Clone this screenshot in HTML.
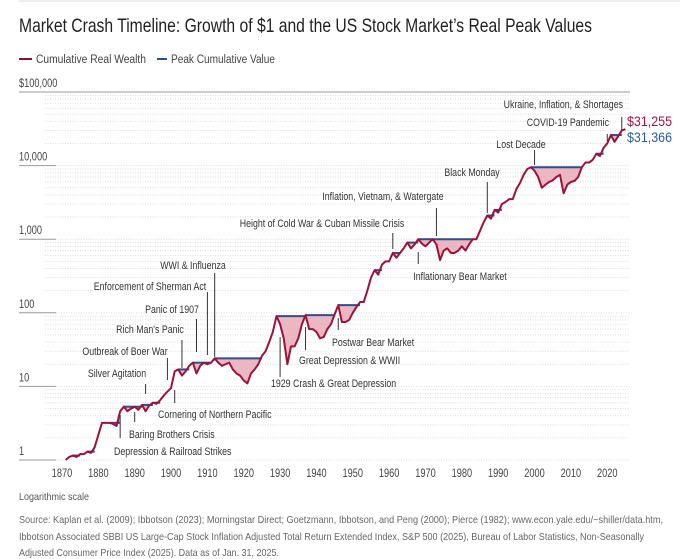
<!DOCTYPE html>
<html><head><meta charset="utf-8">
<style>
html,body{margin:0;padding:0;background:#fff;}
body{width:680px;height:559px;overflow:hidden;position:relative;font-family:"Liberation Sans Narrow","Liberation Sans",sans-serif;}
</style></head>
<body>
<svg id="chart" width="680" height="559" viewBox="0 0 680 559" xmlns="http://www.w3.org/2000/svg" style="position:absolute;left:0;top:0;font-family:'Liberation Sans Narrow','Liberation Sans',sans-serif;">
<line x1="19" y1="1" x2="680" y2="1" stroke="#ddd" stroke-width="1"/>
<text x="19" y="32" font-size="19.5" fill="#222" textLength="573" lengthAdjust="spacingAndGlyphs">Market Crash Timeline: Growth of $1 and the US Stock Market’s Real Peak Values</text>
<g>
<line x1="19" y1="59" x2="32" y2="59" stroke="#8b0f33" stroke-width="2"/>
<text x="36" y="63" font-size="11.5" fill="#444" textLength="110" lengthAdjust="spacingAndGlyphs">Cumulative Real Wealth</text>
<line x1="157" y1="59" x2="167" y2="59" stroke="#2b4f8c" stroke-width="2"/>
<text x="171" y="63" font-size="11.5" fill="#444" textLength="104" lengthAdjust="spacingAndGlyphs">Peak Cumulative Value</text>
</g>
<g id="grid"></g>
<g id="yaxis"></g>
<g id="xaxis"></g>
<g id="series"></g>
<g id="annots"></g>
<text x="627" y="126" font-size="14" fill="#a3143f" textLength="45" lengthAdjust="spacingAndGlyphs">$31,255</text>
<text x="627" y="142" font-size="14" fill="#2b5c9a" textLength="45" lengthAdjust="spacingAndGlyphs">$31,366</text>
<text x="19" y="500" font-size="10.5" fill="#555" textLength="70" lengthAdjust="spacingAndGlyphs">Logarithmic scale</text>
<g font-size="10.5" fill="#666">
<text x="19" y="523" textLength="644" lengthAdjust="spacingAndGlyphs">Source: Kaplan et al. (2009); Ibbotson (2023); Morningstar Direct; Goetzmann, Ibbotson, and Peng (2000); Pierce (1982); www.econ.yale.edu/~shiller/data.htm,</text>
<text x="19" y="540" textLength="625" lengthAdjust="spacingAndGlyphs">Ibbotson Associated SBBI US Large-Cap Stock Inflation Adjusted Total Return Extended Index, S&amp;P 500 (2025), Bureau of Labor Statistics, Non-Seasonally</text>
<text x="19" y="556" textLength="260" lengthAdjust="spacingAndGlyphs">Adjusted Consumer Price Index (2025). Data as of Jan. 31, 2025.</text>
</g>
</svg>
<script>
const years = [1871,1872,1873,1874,1875,1876,1877,1878,1879,1880,1881,1882,1883,1884,1885,1886,1887,1888,1889,1890,1891,1892,1893,1894,1895,1896,1897,1898,1899,1900,1901,1902,1903,1904,1905,1906,1907,1908,1909,1910,1911,1912,1913,1914,1915,1916,1917,1918,1919,1920,1921,1922,1923,1924,1925,1926,1927,1928,1929,1930,1931,1932,1933,1934,1935,1936,1937,1938,1939,1940,1941,1942,1943,1944,1945,1946,1947,1948,1949,1950,1951,1952,1953,1954,1955,1956,1957,1958,1959,1960,1961,1962,1963,1964,1965,1966,1967,1968,1969,1970,1971,1972,1973,1974,1975,1976,1977,1978,1979,1980,1981,1982,1983,1984,1985,1986,1987,1988,1989,1990,1991,1992,1993,1994,1995,1996,1997,1998,1999,2000,2001,2002,2003,2004,2005,2006,2007,2008,2009,2010,2011,2012,2013,2014,2015,2016,2017,2018,2019,2020,2021,2022,2023,2024,2025];
const wealth = [1.0,1.1,1.15,1.1,1.2,1.2,1.3,1.25,1.5,2.2,3.2,3.2,3.2,3.1,2.9,4.6,5.3,4.6,5.0,5.3,4.8,5.6,4.6,5.5,6.0,5.8,6.5,7.5,8.5,9.5,16,17,14,16,19,21,15,19,21,20,21,24,21,19,20,21,17,15,14,12,11,15,17,20,26,30,40,55,90,70,45,20,35,35,45,70,93,60,60,55,45,47,60,70,95,127,75,75,80,100,120,140,140,200,300,380,330,450,500,500,650,560,650,750,900,750,850,1000,870,800,900,1000,850,520,700,750,650,650,700,800,700,850,1000,1000,1300,1700,2100,1900,2500,2300,3000,3200,3500,3500,4800,5800,7500,9000,9500,8500,7000,5000,5500,6000,6300,7000,7500,4200,5500,6000,6200,7000,9500,11000,11000,12000,14500,13500,17500,20000,26000,21000,25000,30000,31255];
const yTicks = [1,10,100,1000,10000,100000];
const yTickLabels = ["1","10","100","1,000","10,000","$100,000"];
const xTicks = [1870,1880,1890,1900,1910,1920,1930,1940,1950,1960,1970,1980,1990,2000,2010,2020];
const annotations = [
 ["Ukraine, Inflation, & Shortages",2024,117,130,623,104,"end"],
 ["COVID-19 Pandemic",2020,134,141,609,122,"end"],
 ["Lost Decade",2000,150,165,521,144,"middle"],
 ["Black Monday",1987,182,213,472,172,"middle"],
 ["Inflation, Vietnam, & Watergate",1973,208,236,383,196,"middle"],
 ["Height of Cold War & Cuban Missile Crisis",1961,233,249,322,223,"middle"],
 ["Inflationary Bear Market",1968,252,264,460,276,"middle"],
 ["WWI & Influenza",1912,273,357,193,265,"middle"],
 ["Enforcement of Sherman Act",1910,292,355,150,286,"middle"],
 ["Panic of 1907",1907,319,352,172,309,"middle"],
 ["Rich Man's Panic",1903,340,368,150,329,"middle"],
 ["Outbreak of Boer War",1899,358,380,125,351,"middle"],
 ["Silver Agitation",1893,384,394,117,373,"middle"],
 ["Cornering of Northern Pacific",1901,390,403,158,414,"start"],
 ["Baring Brothers Crisis",1890,412,422,129,434,"start"],
 ["Depression & Railroad Strikes",1886,415,438,114,451,"start"],
 ["1929 Crash & Great Depression",1930,337,377,271,383,"start"],
 ["Great Depression & WWII",1937,327,350,299,360,"start"],
 ["Postwar Bear Market",1946,318,330,332,342,"start"]
];
const NS="http://www.w3.org/2000/svg";
const X0=62, XS=3.635, Y1=460, DEC=73.6, SQ=0.8;
function xs(yr){return X0+(yr-1870)*XS;}
function ys(v){return Y1-Math.log10(v)*DEC;}
function mk(tag,attrs,parent){const e=document.createElementNS(NS,tag);for(const k in attrs)e.setAttribute(k,attrs[k]);parent.appendChild(e);return e;}
function squeeze(t){try{const w=t.getComputedTextLength();t.setAttribute('textLength',(w*SQ).toFixed(1));t.setAttribute('lengthAdjust','spacingAndGlyphs');}catch(e){}}
const grid=document.getElementById('grid'),yaxis=document.getElementById('yaxis'),xaxis=document.getElementById('xaxis'),series=document.getElementById('series'),ann=document.getElementById('annots');
for(let d=0;d<5;d++){for(let m=2;m<=9;m++){const v=Math.pow(10,d)*m;const y=ys(v);
 const l=mk('line',{x1:45,x2:630,y1:y,y2:y,stroke:'#ddd','stroke-width':1,'stroke-dasharray':'1,1.5'},grid);
 
 }}
yTicks.forEach((v,i)=>{const y=ys(v);
 const l=mk('line',{x1:19,x2:(i===yTicks.length-1?630:56),y1:y,y2:y,stroke:'#999','stroke-width':1},yaxis);
 
 
 if(i<yTicks.length-1){const g=mk('line',{x1:56,x2:630,y1:y,y2:y,stroke:'#ddd','stroke-width':1,'stroke-dasharray':'1,1.5'},grid);
 
 }
 const t=mk('text',{x:19,y:y-5,'font-size':11.5,fill:'#444'},yaxis);t.textContent=yTickLabels[i];squeeze(t);
 
 });
xTicks.forEach(yr=>{const t=mk('text',{x:xs(yr),y:477,'font-size':11.5,fill:'#444','text-anchor':'middle'},xaxis);t.textContent=yr;squeeze(t);
 
 });
const peak=[];let mx=0;wealth.forEach(v=>{mx=Math.max(mx,v);peak.push(mx);});
let i=0;while(i<wealth.length){if(wealth[i]<peak[i]){let s=i-1;let e=i;while(e<wealth.length&&wealth[e]<peak[e])e++;const end=Math.min(e,wealth.length-1);
 let d='M'+xs(years[s])+','+ys(peak[s]);for(let k=s;k<=end;k++)d+=' L'+xs(years[k])+','+ys(wealth[k]);
 d+=' L'+xs(years[end])+','+ys(peak[s])+' Z';
 const f=mk('path',{d:d,fill:'#e8aab9',opacity:0.85},series);
 
 
 const pl=mk('line',{x1:xs(years[s]),x2:xs(years[end]),y1:ys(peak[s]),y2:ys(peak[s]),stroke:'#2b4f8c','stroke-width':2},series);
 
 
 i=e;}else i++;}
let d='';wealth.forEach((v,k)=>{d+=(k?' L':'M')+xs(years[k])+','+ys(v);});
const wl=mk('path',{d:d,fill:'none',stroke:'#9c1239','stroke-width':2,'stroke-linejoin':'round'},series);


annotations.forEach(a=>{const x=xs(a[1]);
 const l=mk('line',{x1:x,x2:x,y1:a[2],y2:a[3],stroke:'#333','stroke-width':1},ann);
 
 
 const t=mk('text',{x:a[4],y:a[5]+4,'font-size':11,fill:'#333','text-anchor':a[6]},ann);t.textContent=a[0];squeeze(t);
 
 });
</script>
</body></html>
